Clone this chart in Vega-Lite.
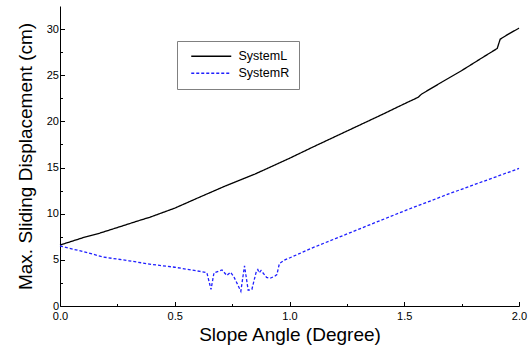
{
  "$schema": "https://vega.github.io/schema/vega-lite/v6.json",
  "width": 459,
  "height": 300,
  "autosize": "none",
  "padding": {"left": 60, "top": 6, "right": 13, "bottom": 50},
  "background": "white",
  "config": {"view": {"stroke": null}, "font": "Liberation Sans"},
  "data": {"values": [
    {"angle": 0.0, "disp": 6.6, "series": "SystemL"},
    {"angle": 0.1, "disp": 7.4, "series": "SystemL"},
    {"angle": 0.174, "disp": 7.9, "series": "SystemL"},
    {"angle": 0.25, "disp": 8.5, "series": "SystemL"},
    {"angle": 0.35, "disp": 9.3, "series": "SystemL"},
    {"angle": 0.39, "disp": 9.6, "series": "SystemL"},
    {"angle": 0.5, "disp": 10.6, "series": "SystemL"},
    {"angle": 0.6, "disp": 11.7, "series": "SystemL"},
    {"angle": 0.72, "disp": 13.0, "series": "SystemL"},
    {"angle": 0.85, "disp": 14.3, "series": "SystemL"},
    {"angle": 1.0, "disp": 16.0, "series": "SystemL"},
    {"angle": 1.1, "disp": 17.2, "series": "SystemL"},
    {"angle": 1.28, "disp": 19.3, "series": "SystemL"},
    {"angle": 1.4, "disp": 20.7, "series": "SystemL"},
    {"angle": 1.5, "disp": 21.9, "series": "SystemL"},
    {"angle": 1.56, "disp": 22.6, "series": "SystemL"},
    {"angle": 1.575, "disp": 22.95, "series": "SystemL"},
    {"angle": 1.66, "disp": 24.2, "series": "SystemL"},
    {"angle": 1.75, "disp": 25.5, "series": "SystemL"},
    {"angle": 1.84, "disp": 26.9, "series": "SystemL"},
    {"angle": 1.905, "disp": 27.9, "series": "SystemL"},
    {"angle": 1.918, "disp": 28.9, "series": "SystemL"},
    {"angle": 1.95, "disp": 29.4, "series": "SystemL"},
    {"angle": 2.0, "disp": 30.1, "series": "SystemL"},
    {"angle": 0.0, "disp": 6.5, "series": "SystemR"},
    {"angle": 0.1, "disp": 5.9, "series": "SystemR"},
    {"angle": 0.19, "disp": 5.3, "series": "SystemR"},
    {"angle": 0.3, "disp": 4.9, "series": "SystemR"},
    {"angle": 0.4, "disp": 4.5, "series": "SystemR"},
    {"angle": 0.5, "disp": 4.2, "series": "SystemR"},
    {"angle": 0.61, "disp": 3.75, "series": "SystemR"},
    {"angle": 0.64, "disp": 3.6, "series": "SystemR"},
    {"angle": 0.658, "disp": 1.8, "series": "SystemR"},
    {"angle": 0.671, "disp": 3.6, "series": "SystemR"},
    {"angle": 0.706, "disp": 3.9, "series": "SystemR"},
    {"angle": 0.727, "disp": 3.3, "series": "SystemR"},
    {"angle": 0.743, "disp": 3.65, "series": "SystemR"},
    {"angle": 0.757, "disp": 3.2, "series": "SystemR"},
    {"angle": 0.788, "disp": 1.6, "series": "SystemR"},
    {"angle": 0.804, "disp": 4.35, "series": "SystemR"},
    {"angle": 0.82, "disp": 1.7, "series": "SystemR"},
    {"angle": 0.836, "disp": 1.8, "series": "SystemR"},
    {"angle": 0.855, "disp": 3.7, "series": "SystemR"},
    {"angle": 0.862, "disp": 3.95, "series": "SystemR"},
    {"angle": 0.868, "disp": 3.6, "series": "SystemR"},
    {"angle": 0.876, "disp": 3.85, "series": "SystemR"},
    {"angle": 0.9, "disp": 3.1, "series": "SystemR"},
    {"angle": 0.915, "disp": 3.0, "series": "SystemR"},
    {"angle": 0.937, "disp": 3.25, "series": "SystemR"},
    {"angle": 0.945, "disp": 3.4, "series": "SystemR"},
    {"angle": 0.956, "disp": 4.6, "series": "SystemR"},
    {"angle": 0.98, "disp": 5.0, "series": "SystemR"},
    {"angle": 1.0, "disp": 5.2, "series": "SystemR"},
    {"angle": 1.1, "disp": 6.3, "series": "SystemR"},
    {"angle": 1.2, "disp": 7.3, "series": "SystemR"},
    {"angle": 1.3, "disp": 8.3, "series": "SystemR"},
    {"angle": 1.4, "disp": 9.3, "series": "SystemR"},
    {"angle": 1.5, "disp": 10.3, "series": "SystemR"},
    {"angle": 1.6, "disp": 11.25, "series": "SystemR"},
    {"angle": 1.7, "disp": 12.2, "series": "SystemR"},
    {"angle": 1.8, "disp": 13.1, "series": "SystemR"},
    {"angle": 1.9, "disp": 14.0, "series": "SystemR"},
    {"angle": 2.0, "disp": 14.9, "series": "SystemR"}
  ]},
  "mark": {"type": "line", "strokeWidth": 1.3},
  "encoding": {
    "x": {
      "field": "angle", "type": "quantitative",
      "scale": {"domain": [0, 2], "nice": false, "zero": false},
      "axis": {
        "title": "Slope Angle (Degree)",
        "values": [0, 0.25, 0.5, 0.75, 1, 1.25, 1.5, 1.75, 2],
        "format": ".1f",
        "labelExpr": "datum.value % 0.5 === 0 ? datum.label : ''",
        "grid": false,
        "domainColor": "black", "tickColor": "black",
        "tickSize": {"condition": {"test": "datum.value % 0.5 !== 0", "value": -2.5}, "value": -4.5},
        "labelFontSize": 11, "labelColor": "black", "labelPadding": 9,
        "labelFlush": false,
        "titleFontSize": 19, "titleFontWeight": "normal", "titleColor": "black",
        "titleY": 28, "titleBaseline": "middle"
      }
    },
    "y": {
      "field": "disp", "type": "quantitative",
      "scale": {"domain": [0, 32.5], "nice": false},
      "axis": {
        "title": "Max. Sliding Displacement (cm)",
        "values": [0, 2.5, 5, 7.5, 10, 12.5, 15, 17.5, 20, 22.5, 25, 27.5, 30],
        "labelExpr": "datum.value % 5 === 0 ? datum.label : ''",
        "grid": false,
        "domainColor": "black", "tickColor": "black",
        "tickSize": {"condition": {"test": "datum.value % 5 !== 0", "value": -2.5}, "value": -4.5},
        "labelFontSize": 11, "labelColor": "black", "labelPadding": 6,
        "labelFlush": false,
        "titleFontSize": 19, "titleFontWeight": "normal", "titleColor": "black",
        "titleX": -35, "titleBaseline": "middle"
      }
    },
    "color": {
      "field": "series", "type": "nominal",
      "scale": {"domain": ["SystemL", "SystemR"], "range": ["#000000", "#1f1fff"]},
      "legend": {"title": null, "orient": "none", "legendX": 117, "legendY": 35,
        "symbolType": "M-4,0H4", "symbolSize": 100, "symbolStrokeWidth": 1.3,
        "symbolOffset": 19, "labelOffset": 21,
        "labelFontSize": 12.5, "labelColor": "black", "strokeColor": "#808080",
        "fillColor": "white", "padding": 9, "rowPadding": 4, "labelLimit": 0}
    },
    "strokeDash": {
      "field": "series", "type": "nominal",
      "scale": {"domain": ["SystemL", "SystemR"], "range": [[1, 0], [3, 2]]},
      "legend": {"title": null, "orient": "none", "legendX": 117, "legendY": 35,
        "symbolType": "M-4,0H4", "symbolSize": 100, "symbolStrokeWidth": 1.3,
        "symbolOffset": 19, "labelOffset": 21,
        "labelFontSize": 12.5, "labelColor": "black", "strokeColor": "#808080",
        "fillColor": "white", "padding": 9, "rowPadding": 4, "labelLimit": 0}
    }
  }
}
